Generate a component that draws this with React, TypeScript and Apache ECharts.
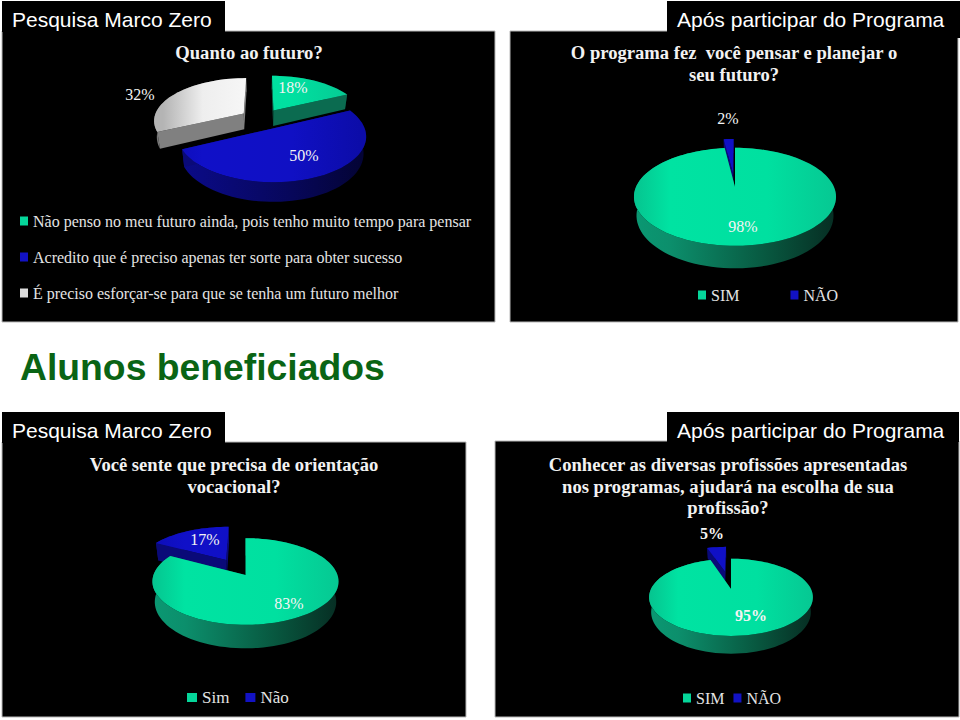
import React, { useEffect, useRef } from "react";
import * as echarts from "echarts";

// ---- data ----
const futuroCategories = [
  "Não penso no meu futuro ainda, pois tenho muito tempo para pensar",
  "Acredito que é preciso apenas ter sorte para obter sucesso",
  "É preciso esforçar-se para que se tenha um futuro melhor",
];
const futuroValues = [18, 50, 32];
const programaCategories = ["SIM", "NÃO"];
const programaValues = [98, 2];
const vocacionalCategories = ["Sim", "Não"];
const vocacionalValues = [83, 17];
const profissaoCategories = ["SIM", "NÃO"];
const profissaoValues = [95, 5];

const slideTitle = "Alunos beneficiados";
const bannerBefore = "Pesquisa Marco Zero";
const bannerAfter = "Após participar do Programa";
const futuroQuestion = "Quanto ao futuro?";
const programaQuestion = "O programa fez  você pensar e planejar o\nseu futuro?";
const vocacionalQuestion = "Você sente que precisa de orientação\nvocacional?";
const profissaoQuestion = "Conhecer as diversas profissões apresentadas\nnos programas, ajudará na escolha de sua\nprofissão?";

// ---- styles and layout ----
const SERIF = "'Liberation Serif', serif";
const SANS = "'Liberation Sans', Arial, sans-serif";
const PALETTE = {
  green: { top: ["#07bd8b", "#00e3a2", "#00e0a0", "#07c591"], rim: ["#0a9a74", "#0c8f6c", "#08573f", "#06281f"], wall: "#0b6b50", legend: "#05d69a" },
  blue: { top: ["#0c0cb4", "#1010c8", "#1010c4", "#0c0ca8"], rim: ["#0b0b8c", "#0a0a80", "#07075a", "#040436"], wall: "#0a0a78", legend: "#1212c4" },
  grey: { top: ["#b4b4b4", "#eeeeee", "#ffffff", "#d8d8d8"], rim: ["#777", "#777", "#777", "#777"], wall: "#808080", legend: "#dddddd" },
};
type ColorKey = keyof typeof PALETTE;

type Pie = {
  key: string;
  names: string[];
  values: number[];
  colors: ColorKey[];
  explode: number[];
  labelAt: number[][];
  labelBold?: boolean;
  drawOrder: number[];
  cx: number; cy: number; R: number; tilt: number; persp: number; depth: number;
};

const pies: Pie[] = [
  { key: "futuro", names: futuroCategories, values: futuroValues, colors: ["green", "blue", "grey"], explode: [22, 22, 22],
    labelAt: [[293, 87], [304, 155], [140, 94]], drawOrder: [2, 0, 1],
    cx: 262, cy: 119, R: 90, tilt: 0.47, persp: 0.15, depth: 16 },
  { key: "programa", names: programaCategories, values: programaValues, colors: ["green", "blue"], explode: [0, 28],
    labelAt: [[743, 226], [728, 118]], drawOrder: [1, 0],
    cx: 735, cy: 187, R: 99, tilt: 0.475, persp: 0.2, depth: 18 },
  { key: "vocacional", names: vocacionalCategories, values: vocacionalValues, colors: ["green", "blue"], explode: [0, 40],
    labelAt: [[289, 603], [205, 539]], drawOrder: [1, 0],
    cx: 245.5, cy: 575, R: 92, tilt: 0.46, persp: 0.15, depth: 20 },
  { key: "profissao", names: profissaoCategories, values: profissaoValues, colors: ["green", "blue"], explode: [0, 42],
    labelAt: [[751, 615], [712, 533]], labelBold: true, drawOrder: [1, 0],
    cx: 731, cy: 589, R: 80, tilt: 0.46, persp: 0.215, depth: 14 },
];

const panels = [
  { x: 2, y: 31, w: 493, h: 291 },
  { x: 510, y: 31, w: 448, h: 291 },
  { x: 2, y: 442, w: 464, h: 275 },
  { x: 495, y: 441, w: 464, h: 276 },
];
const banners = [
  { x: 2, y: 1, w: 223, h: 31, tx: 12, ty: 20, text: bannerBefore },
  { x: 667, y: 1, w: 293, h: 37, tx: 677, ty: 20, text: bannerAfter },
  { x: 2, y: 412, w: 223, h: 31, tx: 12, ty: 431, text: bannerBefore },
  { x: 667, y: 412, w: 292, h: 30, tx: 677, ty: 431, text: bannerAfter },
];
const questions = [
  { text: futuroQuestion, cx: 249, top: 42 },
  { text: programaQuestion, cx: 734, top: 42 },
  { text: vocacionalQuestion, cx: 234, top: 454 },
  { text: profissaoQuestion, cx: 728, top: 454 },
];

const toRad = (d: number) => (d * Math.PI) / 180;

function project(p: Pie, X: number, Y: number, h: number) {
  const s = 1 / (1 + (p.persp * Y) / p.R);
  const shrink = h > 0 ? 0.975 : 1;
  return [p.cx + X * s * shrink, p.cy - Y * s * p.tilt + h * s];
}

function sliceSeries(p: Pie, i: number) {
  const total = p.values.reduce((a, b) => a + b, 0);
  const before = p.values.slice(0, i).reduce((a, b) => a + b, 0);
  const pal = PALETTE[p.colors[i]];
  const d = p.explode[i];
  return {
    type: "custom",
    name: p.names[i],
    coordinateSystem: "none",
    silent: true,
    itemStyle: { color: pal.legend },
    data: [[p.values[i]]],
    renderItem: (_params: any, api: any) => {
      const value = api.value(0) as number;
      const a1 = (before / total) * 360;
      const a2 = a1 + (value / total) * 360;
      const mid = toRad((a1 + a2) / 2);
      const ox = d * Math.sin(mid);
      const oy = d * Math.cos(mid);
      const at = (deg: number, r: number, h: number) =>
        project(p, ox + r * Math.sin(toRad(deg)), oy + r * Math.cos(toRad(deg)), h);
      const arc = (h: number, rev = false) => {
        const pts: number[][] = [];
        const n = Math.max(2, Math.ceil((a2 - a1) / 3));
        for (let k = 0; k <= n; k++) pts.push(at(a1 + ((a2 - a1) * k) / n, p.R, h));
        return rev ? pts.reverse() : pts;
      };
      const x0 = p.cx - p.R * 1.1;
      const x1 = p.cx + p.R * 1.1;
      const grad = (c: string[]) =>
        new echarts.graphic.LinearGradient(x0, 0, x1, 0, [
          { offset: 0, color: c[0] }, { offset: 0.2, color: c[1] },
          { offset: 0.65, color: c[2] }, { offset: 1, color: c[3] },
        ], true);
      const poly = (points: number[][], fill: any) => ({ type: "polygon", shape: { points }, style: { fill, stroke: null } });
      const wall = (deg: number) =>
        poly([at(deg, 0, 0), at(deg, p.R, 0), at(deg, p.R, p.depth), at(deg, 0, p.depth)], pal.wall);
      const label = p.labelAt[i];
      return {
        type: "group",
        children: [
          poly([...arc(0), ...arc(p.depth, true)], grad(pal.rim)),
          wall(a1),
          wall(a2),
          poly([at(0, 0, 0), ...arc(0)], grad(pal.top)),
          {
            type: "text",
            style: {
              x: label[0], y: label[1], text: `${value}%`, fill: "#f4f4f4",
              fontFamily: SERIF, fontSize: 16, fontWeight: p.labelBold ? "bold" : "normal",
              align: "center", verticalAlign: "middle",
            },
          },
        ],
      };
    },
  };
}

const legendBase = {
  icon: "rect", itemWidth: 8, itemHeight: 9, selectedMode: false, padding: 0,
  textStyle: { fontFamily: SERIF, fontSize: 16, color: "#e4e4e4" },
};

export default function App() {
  const ref = useRef<HTMLDivElement>(null);
  useEffect(() => {
    const chart = echarts.init(ref.current!, undefined, { renderer: "svg" });
    const series: any[] = [];
    pies.forEach((p) => p.drawOrder.forEach((i) => series.push(sliceSeries(p, i))));
    chart.setOption({
      animation: false,
      backgroundColor: "#ffffff",
      title: [
        { text: slideTitle, left: 20, top: 348, padding: 0,
          textStyle: { fontFamily: SANS, fontSize: 37.3, fontWeight: "bold", color: "#0a6414" } },
        ...banners.map((b) => ({ text: b.text, left: b.tx, top: b.ty - 11, padding: 0,
          textStyle: { fontFamily: SANS, fontSize: 21, fontWeight: "normal", color: "#ffffff" } })),
        ...questions.map((q) => ({ text: q.text, left: q.cx, top: q.top, padding: 0, textAlign: "center",
          textStyle: { fontFamily: SERIF, fontSize: 18.6, fontWeight: "bold", color: "#f2f2f2", lineHeight: 21.5, align: "center" } })),
      ],
      graphic: [
        ...panels.map((r) => ({ type: "rect", shape: { x: r.x, y: r.y, width: r.w, height: r.h },
          style: { fill: "#000000", stroke: "#b8b8b8", lineWidth: 1 }, silent: true })),
        ...banners.map((r) => ({ type: "rect", shape: { x: r.x, y: r.y, width: r.w, height: r.h },
          style: { fill: "#000000" }, silent: true })),
      ],
      legend: [
        { ...legendBase, data: futuroCategories, orient: "vertical", left: 20, top: 213, itemGap: 20 },
        { ...legendBase, data: programaCategories, orient: "horizontal", left: 698, top: 287, itemGap: 51 },
        { ...legendBase, data: vocacionalCategories, orient: "horizontal", left: 187, top: 689, itemGap: 16, itemWidth: 10,
          textStyle: { fontFamily: SERIF, fontSize: 17, color: "#e4e4e4" } },
        { ...legendBase, data: profissaoCategories, orient: "horizontal", left: 683, top: 690, itemGap: 9 },
      ],
      series,
    });
    return () => chart.dispose();
  }, []);
  return <div ref={ref} style={{ position: "absolute", left: 0, top: 0, width: 960, height: 720 }} />;
}
